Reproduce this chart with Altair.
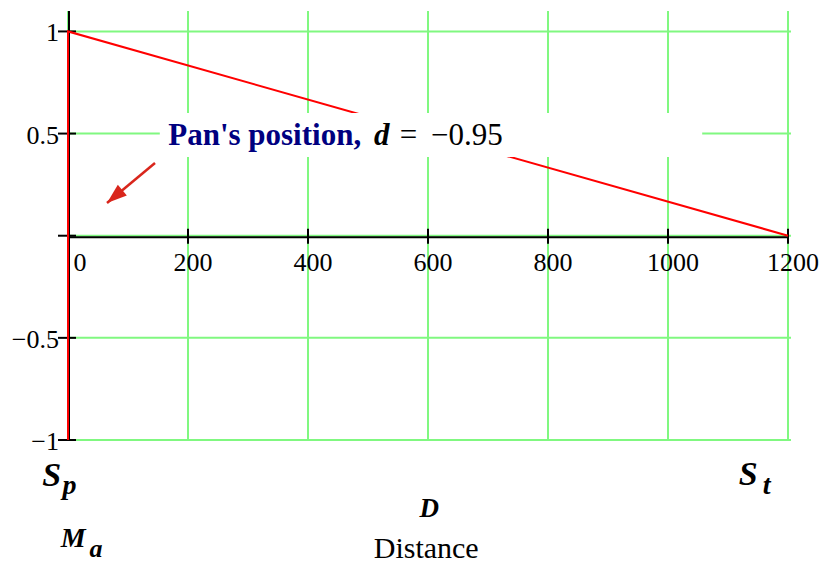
import altair as alt
import pandas as pd

# ---------------- data ----------------
x_ticks = [0, 200, 400, 600, 800, 1000, 1200]
x_tick_labels = ["0", "200", "400", "600", "800", "1000", "1200"]
y_ticks = [-1, -0.5, 0, 0.5, 1]
y_tick_labels = ["\u22121", "\u22120.5", "", "0.5", "1"]

trace_x = [0, 0, 1200]
trace_y = [-1, 1, 0]
trace_order = [0, 1, 2]

pan_d = -0.95

# annotation anchors (data units)
ann_box_x = [153, 1057]
ann_box_y = [0.385, 0.601]
arrow_from = [145, 0.356]
arrow_to = [65, 0.160]

# ---------------- scales ----------------
X = alt.Scale(domain=[0, 1200], nice=False, zero=False)
Y = alt.Scale(domain=[-1, 1.1], nice=False, zero=False)

FONT = "Liberation Serif"
GREEN = "#80F880"
RED = "#FF0000"
NAVY = "#000080"


def qx(f):
    return alt.X(f, type="quantitative", scale=X, axis=None)


def qy(f):
    return alt.Y(f, type="quantitative", scale=Y, axis=None)


layers = []

# grid lines
gx = pd.DataFrame({"x": x_ticks, "lo": -1.0, "hi": 1.1})
layers.append(alt.Chart(gx).mark_rule(color=GREEN, strokeWidth=2).encode(
    x=qx("x"), y=qy("lo"), y2="hi"))
gy = pd.DataFrame({"y": y_ticks, "lo": 0, "hi": 1200})
layers.append(alt.Chart(gy).mark_rule(color=GREEN, strokeWidth=2, x2Offset=3).encode(
    y=qy("y"), x=qx("lo"), x2="hi"))

# black axes crossing at the origin
axes_v = pd.DataFrame({"x": [0], "lo": [-1.0], "hi": [1.1]})
layers.append(alt.Chart(axes_v).mark_rule(color="black", strokeWidth=2, xOffset=1, x2Offset=1).encode(
    x=qx("x"), y=qy("lo"), y2="hi"))
axes_h = pd.DataFrame({"y": [0], "lo": [0], "hi": [1200]})
layers.append(alt.Chart(axes_h).mark_rule(color="black", strokeWidth=2, yOffset=1.5, y2Offset=1.5).encode(
    y=qy("y"), x=qx("lo"), x2="hi"))

# ticks
tx = pd.DataFrame({"x": x_ticks[1:], "z": 0})
layers.append(alt.Chart(tx).mark_rule(color="black", strokeWidth=2, yOffset=-7, y2Offset=8).encode(
    x=qx("x"), y=qy("z"), y2="z"))
ty = pd.DataFrame({"y": y_ticks, "z": 0})
layers.append(alt.Chart(ty).mark_rule(color="black", strokeWidth=2, xOffset=-10, x2Offset=8).encode(
    y=qy("y"), x=qx("z"), x2="z"))

# red trace
tr = pd.DataFrame({"x": trace_x, "y": trace_y, "o": trace_order})
layers.append(alt.Chart(tr).mark_line(color=RED, strokeWidth=2).encode(
    x=qx("x"), y=qy("y"), order="o:Q"))

# annotation white box
bx = pd.DataFrame({"x": [ann_box_x[0]], "x2": [ann_box_x[1]], "y": [ann_box_y[0]], "y2": [ann_box_y[1]]})
layers.append(alt.Chart(bx).mark_rect(color="white").encode(
    x=qx("x"), x2="x2", y=qy("y"), y2="y2"))

# annotation texts
ann = [
    ("Pan's position,", 167, 0.444, dict(fontWeight="bold", color=NAVY, fontSize=31)),
    ("d", 510, 0.444, dict(fontWeight="bold", fontStyle="italic", color="black", fontSize=31)),
    ("=", 553, 0.444, dict(color="black", fontSize=31)),
    ("\u2212" + f"{abs(pan_d):.2f}", 605, 0.444, dict(color="black", fontSize=31)),
]
for t, xx, yy, st in ann:
    df = pd.DataFrame({"t": [t], "x": [xx], "y": [yy]})
    layers.append(alt.Chart(df).mark_text(font=FONT, align="left", baseline="alphabetic", **st).encode(
        x=qx("x"), y=qy("y"), text="t:N"))

# arrow
ar = pd.DataFrame({"x": [arrow_from[0]], "y": [arrow_from[1]], "x2": [arrow_to[0]], "y2": [arrow_to[1]]})
layers.append(alt.Chart(ar).mark_rule(color="#D9261C", strokeWidth=2.5).encode(
    x=qx("x"), y=qy("y"), x2="x2", y2="y2"))
ah = pd.DataFrame({"x": [arrow_to[0]], "y": [arrow_to[1]]})
layers.append(alt.Chart(ah).mark_point(shape="M0,0L-0.35,1L0.35,1Z", filled=True, size=1600, angle=230,
                                       color="#D9261C", opacity=1, strokeWidth=0).encode(
    x=qx("x"), y=qy("y")))

# tick labels
xl = pd.DataFrame({"x": x_ticks, "t": x_tick_labels, "z": 0})
layers.append(alt.Chart(xl[xl.x == 0]).mark_text(font=FONT, fontSize=26, dx=12, dy=35, baseline="alphabetic").encode(
    x=qx("x"), y=qy("z"), text="t:N"))
layers.append(alt.Chart(xl[xl.x != 0]).mark_text(font=FONT, fontSize=26, dx=5, dy=35, baseline="alphabetic").encode(
    x=qx("x"), y=qy("z"), text="t:N"))
yl = pd.DataFrame({"y": y_ticks, "t": y_tick_labels, "z": 0})
yl = yl[yl.t != ""]
layers.append(alt.Chart(yl).mark_text(font=FONT, fontSize=26, align="right", dx=-9, dy=10, baseline="alphabetic").encode(
    x=qx("z"), y=qy("y"), text="t:N"))

# bottom labels (Mathcad-style variable names)
bottom = [
    ("S", -43, -1.225, 34, "left", "italic", "bold"),
    ("p", -9, -1.264, 28, "left", "italic", "bold"),
    ("M", -12, -1.524, 28, "left", "italic", "bold"),
    ("a", 36, -1.573, 26, "left", "italic", "bold"),
    ("S", 1118, -1.220, 34, "left", "italic", "bold"),
    ("t", 1158, -1.264, 28, "left", "italic", "bold"),
    ("D", 602, -1.377, 27, "center", "italic", "bold"),
    ("Distance", 597, -1.578, 30, "center", "normal", "normal"),
]
for t, xx, yy, fs, al, fst, fw in bottom:
    df = pd.DataFrame({"t": [t], "x": [xx], "y": [yy]})
    layers.append(alt.Chart(df).mark_text(font=FONT, fontSize=fs, align=al, fontStyle=fst, fontWeight=fw,
                                          baseline="alphabetic", color="black").encode(
        x=qx("x"), y=qy("y"), text="t:N"))

chart = alt.layer(*layers).properties(
    width=720, height=429,
    autosize=alt.AutoSizeParams(type="none"),
    padding={"left": 60, "top": 3, "right": 40, "bottom": 127},
    background="white",
).configure_view(stroke=None)

chart.save("out.html", embed_options={"renderer": "svg", "actions": False})
